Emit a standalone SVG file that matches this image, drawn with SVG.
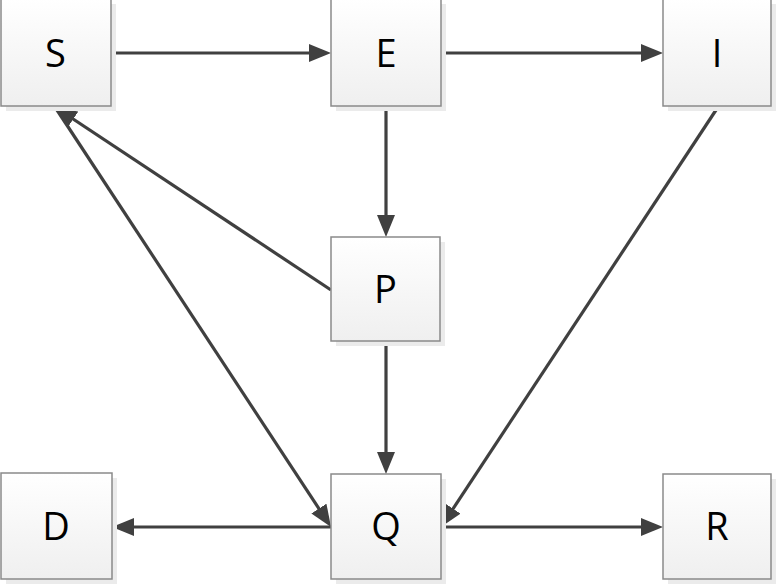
<svg xmlns="http://www.w3.org/2000/svg" width="779" height="586" viewBox="0 0 779 586">
<style>
.box{fill:url(#g);stroke:#8a8a8a;stroke-width:1.5}
.sh{fill:#ebebeb}
.lbl{font-family:"Open Sans","Liberation Sans",sans-serif;font-size:38px;fill:#000;text-anchor:middle}
.c{stroke:#404040;stroke-width:3.2;fill:none;marker-end:url(#ah)}
</style>
<defs>
<linearGradient id="g" x1="0" y1="0" x2="0" y2="1">
<stop offset="0" stop-color="#ffffff"/>
<stop offset="1" stop-color="#efefef"/>
</linearGradient>
<marker id="ah" markerUnits="userSpaceOnUse" markerWidth="22" markerHeight="18" refX="12" refY="9" orient="auto" viewBox="0 0 22 18">
<path d="M0,0 L22,9 L0,18 z" fill="#404040"/>
</marker>
</defs>
<rect width="779" height="586" fill="#fff"/>
<g id="connectors">
<line class="c" x1="111" y1="53" x2="321" y2="53"/>
<line class="c" x1="441" y1="53" x2="653" y2="53"/>
<line class="c" x1="386" y1="107" x2="386" y2="227"/>
<line class="c" x1="331" y1="290" x2="63.3" y2="112.5"/>
<line class="c" x1="55" y1="107" x2="325.5" y2="518.6"/>
<line class="c" x1="718" y1="107" x2="446.5" y2="518.7"/>
<line class="c" x1="386" y1="341" x2="386" y2="464"/>
<line class="c" x1="331" y1="527" x2="122" y2="527"/>
<line class="c" x1="441" y1="527" x2="653" y2="527"/>
</g>
<g id="S"><rect class="sh" x="6" y="4" width="110" height="107"/><rect class="box" x="1" y="-1" width="110" height="107"/><text class="lbl" x="55.5" y="66.5">S</text></g>
<g id="E"><rect class="sh" x="336" y="4" width="110" height="107"/><rect class="box" x="331" y="-1" width="110" height="107"/><text class="lbl" x="386" y="66.5">E</text></g>
<g id="I"><rect class="sh" x="668" y="4" width="108" height="107"/><rect class="box" x="663" y="-1" width="108" height="107"/><text class="lbl" x="717" y="66.5">I</text></g>
<g id="P"><rect class="sh" x="336" y="242" width="109" height="104"/><rect class="box" x="331" y="237" width="109" height="104"/><text class="lbl" x="385.5" y="302.5">P</text></g>
<g id="D"><rect class="sh" x="6" y="478" width="111" height="106"/><rect class="box" x="1" y="473" width="111" height="106"/><text class="lbl" x="56" y="539.5">D</text></g>
<g id="Q"><rect class="sh" x="336" y="479" width="110" height="105"/><rect class="box" x="331" y="474" width="110" height="105"/><text class="lbl" x="386" y="539.5">Q</text></g>
<g id="R"><rect class="sh" x="668" y="479" width="108" height="105"/><rect class="box" x="663" y="474" width="108" height="105"/><text class="lbl" x="717" y="539.5">R</text></g>
</svg>
